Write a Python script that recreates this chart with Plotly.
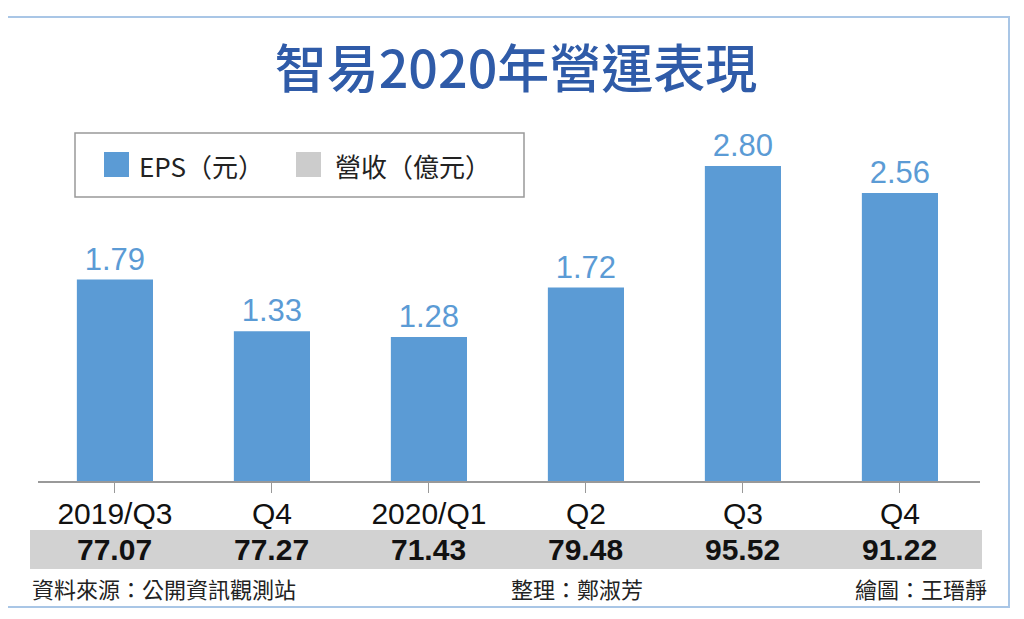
import plotly.graph_objects as go

# data
quarters = ['2019/Q3', 'Q4', '2020/Q1', 'Q2', 'Q3', 'Q4']
eps = [1.79, 1.33, 1.28, 1.72, 2.80, 2.56]
revenue = [77.07, 77.27, 71.43, 79.48, 95.52, 91.22]

W, H = 1024, 619
OFF = 8  # the page body adds an 8px margin, so everything is pulled back by that much
BLUE = '#5b9bd5'
GREY = '#d2d2d2'
CJK = 'Noto Sans CJK TC, sans-serif'
NUM = 'Liberation Sans, Arial, sans-serif'


def px_x(p):
    return (p - OFF) / W


def px_y(p):
    return 1 - (p - OFF) / H


xs = list(range(len(quarters)))

fig = go.Figure()
fig.add_trace(go.Bar(
    x=xs, y=eps, marker=dict(color=BLUE, line=dict(width=0)),
    text=[f'{v:.2f}' for v in eps], textposition='outside',
    textfont=dict(family=NUM, size=31, color=BLUE),
    cliponaxis=False, showlegend=False, hoverinfo='skip',
))

# revenue row inside the grey band
for i, v in enumerate(revenue):
    fig.add_annotation(x=i, y=px_y(549), xref='x', yref='paper', yanchor='middle',
                       text=f'<b>{v:.2f}</b>', showarrow=False,
                       font=dict(family=NUM, size=30, color='#111'))

shapes = [
    # outer frame
    dict(type='rect', xref='paper', yref='paper', x0=px_x(3), x1=px_x(1009), y0=px_y(607), y1=px_y(17),
         line=dict(color='#a9c6e6', width=2), layer='below'),
    # grey band
    dict(type='rect', xref='paper', yref='paper', x0=px_x(30), x1=px_x(982), y0=px_y(569), y1=px_y(530),
         fillcolor=GREY, line=dict(width=0), layer='below'),
    # legend box
    dict(type='rect', xref='paper', yref='paper', x0=px_x(75), x1=px_x(524), y0=px_y(197), y1=px_y(133),
         fillcolor='white', line=dict(color='#999', width=1.5)),
    dict(type='rect', xref='paper', yref='paper', x0=px_x(104), x1=px_x(129), y0=px_y(177), y1=px_y(152),
         fillcolor=BLUE, line=dict(width=0)),
    dict(type='rect', xref='paper', yref='paper', x0=px_x(296), x1=px_x(321), y0=px_y(177), y1=px_y(152),
         fillcolor='#cccccc', line=dict(width=0)),
]
fig.update_layout(shapes=shapes)

leg = dict(family=CJK, size=26, color='#222')
fig.add_annotation(x=px_x(137), y=px_y(165), xref='paper', yref='paper', xanchor='left', yanchor='middle',
                   text='EPS（元）', showarrow=False, font=leg)
fig.add_annotation(x=px_x(333), y=px_y(165), xref='paper', yref='paper', xanchor='left', yanchor='middle',
                   text='營收（億元）', showarrow=False, font=leg)

# footer
foot = dict(family=CJK, size=22, color='#222')
fig.add_annotation(x=px_x(30), y=px_y(588), xref='paper', yref='paper', xanchor='left', yanchor='middle',
                   text='資料來源：公開資訊觀測站', showarrow=False, font=foot)
fig.add_annotation(x=px_x(577), y=px_y(588), xref='paper', yref='paper', xanchor='center', yanchor='middle',
                   text='整理：鄭淑芳', showarrow=False, font=foot)
fig.add_annotation(x=px_x(989), y=px_y(588), xref='paper', yref='paper', xanchor='right', yanchor='middle',
                   text='繪圖：王瑨靜', showarrow=False, font=foot)

fig.update_layout(
    width=W, height=H,
    margin=dict(l=0, r=0, t=0, b=0),
    paper_bgcolor='white', plot_bgcolor='white',
    title=dict(text='智易2020年營運表現', x=px_x(516), xanchor='center', y=px_y(70), yanchor='middle',
               font=dict(family=CJK, size=52, color='#2f5ba8', weight=500)),
    bargap=0.515,
    xaxis=dict(domain=[px_x(38), px_x(980)], range=[-0.49, 5.51],
               tickvals=xs, ticktext=quarters, ticks='outside', ticklen=10, tickcolor='#999',
               ticklabelstandoff=-5,
               showline=True, linecolor='#999', linewidth=2, showgrid=False, zeroline=False,
               tickfont=dict(family=NUM, size=30, color='#111'), fixedrange=True),
    yaxis=dict(domain=[px_y(481), px_y(120)], range=[0, (481 - 120) / 112.5],
               visible=False, showgrid=False, fixedrange=True),
)

fig.write_html('out.html')
